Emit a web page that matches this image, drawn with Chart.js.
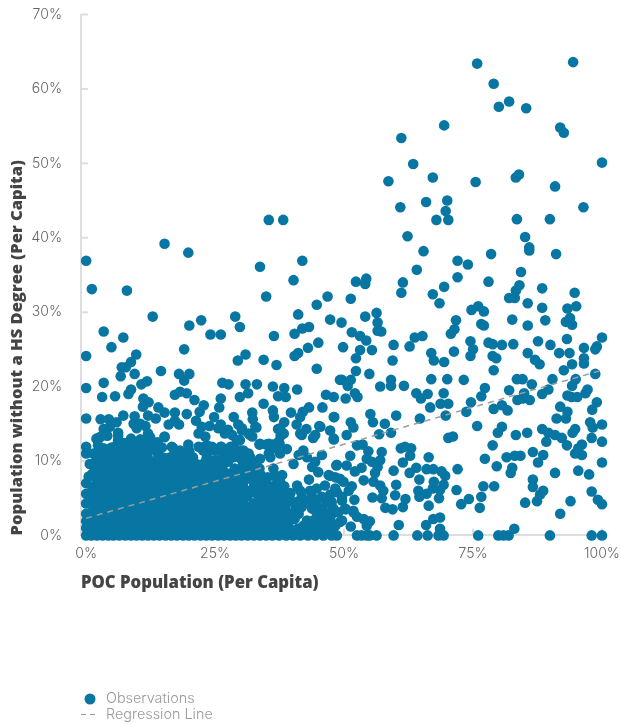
<!DOCTYPE html>
<html>
<head>
<meta charset="utf-8">
<title>POC population vs population without a HS degree</title>
<script src="https://cdn.jsdelivr.net/npm/chart.js@4"></script>
<style>
    html, body { margin: 0; padding: 0; background: #fff; }
    #wrap { position: relative; width: 621px; height: 724px; overflow: hidden; }
    #chart { position: absolute; left: 0; top: 0; }
    .legend-row { position: absolute; left: 106px; font: 300 14.4px Inter, sans-serif; color: #9a9a9a; line-height: 16px; }
    .swatch { position: absolute; }
</style>
</head>
<body>
<div id="wrap">
    <canvas id="chart" width="621" height="724"></canvas>
    <svg class="swatch" style="left:78px;top:690px" width="22" height="32">
        <circle cx="12" cy="9" r="5.5" fill="#0776a3"></circle>
        <line x1="3" x2="19" y1="24.5" y2="24.5" stroke="#9a9a9a" stroke-width="1.2" stroke-dasharray="5 4"></line>
    </svg>
    <div class="legend-row" style="top:690px">Observations</div>
    <div class="legend-row" style="top:706px">Regression Line</div>
</div>
<script>
const xTickValues = [0, 25, 50, 75, 100];
const yTickValues = [0, 10, 20, 30, 40, 50, 60, 70];
const regressionX = [0, 100];
const regressionY = [2.3, 22.2];

// [POC %, no HS degree %], split up by region
const upperLeft = [
    [0,36.9],[1.1,33.1],[7.9,32.9],[15.2,39.2],[19.8,38],[35.4,42.4],[38.2,42.4],[33.7,36.1],[41.9,36.9],[40.2,34.3],[34.9,32.1],
    [44.7,31],[41.1,29.7],[12.9,29.4],[28.9,29.4],[47.3,29],[22.3,28.9],[20,28.2],[29.8,28],[49.5,28.6],[43.2,28],[41.9,27.8],
    [40.4,27.1],[3.4,27.4],[24.1,27],[26.1,27],[7.2,26.6],[36.4,26.8],[45,25.9],[4.9,25.3],[19,25],[43,25.2],[9.7,24.3],[0,24.1],
    [30.9,24.3],[41.1,24.5],[40.4,24.1],[29.4,23.5],[34.4,23.6],[36.9,22.9],[8.7,23.3],[7.7,22.6],[6.9,22.6],[44.7,22.4],[14.5,22.1],
    [18,21.7],[20,21.7],[9.4,21.7],[6.7,21.4],[19,20.8],[49.2,20.9],[3.4,20.5],[11.8,20.7],[10.7,20.3],[26.4,20.5],[27.6,20.3],
    [30.9,20.3],[33.1,20.3],[0,19.8],[36.2,20],[38.4,19.8],[40.9,19.6],[8.7,19.6],[8.2,19],[31.4,19.1],[18.2,19.3],[19.5,19.1],[17.2,18.9],
    [3.1,18.6],[5.6,18.7],[26.1,18.4],[29.8,18.6],[37.2,18.7],[38.7,18.6],[46.5,18.9],[48,18.6],[21,18.2],[11.1,18.4],[12.1,17.9],[11,17.3],
    [22.8,17.5],[25.8,17.2],[34.4,17.7],[14,17.2],[43.2,17.2],[45.8,17.2],[36.2,16.8],[22,16.6],[32.2,16.5],[15.2,16.5],[17.2,16.5],
    [42,16.6],[39.7,16.5],[19.5,16.3],[7.2,16.1],[9.4,16],[12,16.1],[13.5,15.7],[24.8,15.9],[28.6,15.9],[32.3,15.6],[36.4,15.9],[48,15.9],
    [0,15.7],[2.8,15.6],[4.4,15.6],[17.2,15.4],[16,14.9],[18,14.9],[21.3,15.4],[41.5,15.9],[5.9,15.2],[9.2,15],[10.5,15],[11.5,14.7],
    [26.1,14.9],[29.5,14.9],[33,14.5],[38.4,15.2],[40.8,14.9],[45.2,14.7],[23.9,14.7],[3.4,14.3],[27.5,14.2],[21.8,13.7],[30.2,14.1],
    [37.2,14.3],[42.7,14.3],[47.3,14.1],[6.2,13.8],[12,13.7],[31.5,13.7],[41.5,13.7],[44.4,13.5],[3.1,13.4],[4.1,13.4],[37.7,13.4],
    [15.2,13.3],[23.1,13.3],[28.3,13.5],[32.2,13.3],[48,13],[8.7,13],[2,13],[6.2,12.8],[44,13.1],[12.3,12.8],[29.8,12.8],[33.6,12.2],
    [34.9,12.2],[36.2,12.2],[37.5,12.3],[19.8,12.2],[21.8,11.9],[22.9,11.9],[24.4,11.9],[26.1,11.9],[28.8,11.7],[0,11.9],[0,11],
    [2.3,12.1],[2.7,13.2],[3.9,13.5],[5.9,12.1],[7.5,11.4],[11.4,12.1],[13,11.7],[15.2,13.2],[16.9,11.7],[16.2,10.3],[20.7,10.5],
    [21.1,9.2],[17.8,10.1],[24,11.7],[26.2,11.9],[22.7,11.4],[25.3,10.1],[27.5,9.9],[28.8,9],[4.6,14.6],[9.8,14.4],[11.7,13],[22.4,14.6],
    [25.6,14.4],[26.9,13.7],[30.2,14.4],[31.8,13.5],[32.8,14.6],[37.6,14.4],[38.3,13.7],[41.8,13.5],[45.4,14.6],[48,12.9],[33.7,12.3],
    [35.4,12.3],[37.3,12.6],[36.7,11.7],[38.9,11.6],[37.6,11],[35.4,11],[33.7,10.3],[35.7,10.5],[33.6,9],[36.3,9],[38,8.1],[34.4,7.6]
];

const upperRight = [
    [75.8,63.4],[94.4,63.6],[79,60.7],[82,58.3],[80,57.6],[85.3,57.4],[69.4,55.1],[91.9,54.8],[92.6,54.1],[61.1,53.4],[100,50.1],
    [63.4,49.9],[67.2,48.1],[83.9,48.5],[83.3,48.1],[75.5,47.5],[58.6,47.6],[90.9,46.9],[60.9,44.1],[65.9,44.8],[70,45],[69.7,43.6],
    [67.9,42.4],[70.2,42.4],[83.5,42.5],[89.9,42.5],[96.4,44.1],[85.1,40.1],[62.3,40.2],[85.9,38.7],[85.9,38.3],[65.4,38.2],[78.5,37.8],
    [91.1,37.8],[72,36.9],[74,36.4],[64.1,35.7],[84.3,35.4],[72,34.7],[54.3,34.5],[52.3,34.1],[54.1,33.8],[61.4,34],[78,34.1],[69.4,33.4],
    [84,33.6],[88.4,33.2],[83.3,32.9],[61.1,32.6],[67.2,32.4],[94.7,32.6],[46.8,32.1],[51.3,31.8],[82,31.9],[83.1,31.9],
    [68.5,31.2],[85.6,31.2],[88.4,30.6],[95,30.8],[93.3,30.5],[74.7,30.3],[76,30.8],[77.1,30.1],[56.3,29.9],[54.1,29.4],[56.5,28.6],
    [56.5,27.5],[57.2,27.4],[71.7,28.9],[71.4,27.7],[70.7,27.1],[76.6,28.4],[77.1,28.2],[82.6,29],[85.6,28.2],[89,28.9],[93.8,29.2],
    [93,28.7],[94.2,28.3],[51.5,27.3],[53.1,26.8],[54.3,26.2],[65.2,26.8],[63.7,26.6],[100,26.6],[74.5,26.1],[78,25.9],[78.8,25.7],
    [80.6,25.6],[82.8,25.7],[87.6,26.1],[93.2,26.4],[49.8,25.3],[59.6,25.6],[62.7,25.4],[90,25.6],[96.5,25.2],[99,25.4],[98.7,25],
    [53.1,24.9],[55.4,24.9],[75,25],[74.5,24.1],[66.9,24.5],[67.4,23.5],[71.3,24.7],[85.6,24.5],[91.7,24.5],[93.7,24.5],[52.3,23.8],
    [59.4,23.5],[69.4,23.3],[78.8,24.1],[79.5,23.8],[87,23.6],[87.9,23],[96.5,23.8],[96.5,23.1],[94.2,23],[92.6,22.2],[79,22.2],
    [52.3,22.1],[54.9,21.7],[98.7,21.7],[49.6,20.9],[51.3,20.9],[50.7,20.1],[59.1,20.9],[59.1,20.1],[66.9,21],[70,21],[73.2,20.9],
    [83.5,21],[84.6,21],[90.4,21],[94.9,21],[57,20],[61.6,20.1],[86.4,20.3],[94.2,20.1],[77.3,19.8],[69.3,19.1],[82,19.5],[89.6,19.6],
    [97.2,19.6],[50.3,18.4],[52.1,19.1],[52.6,18.6],[64,19.1],[64.9,18.4],[66.2,19],[76.6,18.7],[84.9,19.1],[83.6,18.2],[84.6,18.4],
    [86,18.2],[88.4,19],[93.3,18.8],[94.1,18.6],[95.2,18.6],[96.8,19.1],[99,17.9],[74.6,17.9],[68.7,17.7],[70.2,17.7],[66.7,17.2],
    [80.6,17.5],[79,17],[81.7,16.8],[91.9,17.3],[98.1,16.9],[73.7,16.6],[93.3,16.6],[55.1,16.3],[55.6,15.2],[60.1,16.1],[69.7,16.1],
    [64.7,15.7],[48.1,15.9],[91.2,15.7],[93,15.7],[51.3,15.2],[51.8,14.5],[57.9,15],[97.7,15.2],[100,14.9],[75.8,14.7],[80.6,14.6],
    [98.2,14.5],[88.4,14.3],[94.8,14.3],[94.3,13.8],[79.8,13.8],[85.5,13.8],[89.6,13.8],[90.9,13.5],[56.8,13.6],[59.1,13.8],[50.5,13.5],
    [83.3,13.5],[70.2,13.1],[71.1,13.3],[92.2,13.1],[98,13.1],[100,12.6],[89.2,12.6]
];

const lowerRight = [
    [52.5,12.1],[53.6,12.2],[78.8,12.1],[93.2,12.1],[96.1,12.2],[95.4,11.7],[61.8,11.9],[61,11.7],[63,11.7],[54.7,11.3],[57.3,11.2],
    [86.6,11.2],[94.8,11],[96.1,10.8],[51.2,10.7],[88.6,10.8],[62.8,10.7],[66.4,10.5],[81.5,10.5],[83.1,10.7],[84.2,10.7],[77.3,10.3],
    [54.4,10.3],[55.4,9.9],[57,10.1],[61.4,9.8],[87.6,9.8],[100,9.8],[50.5,9.4],[48.5,9.4],[79.6,9.3],[53.4,9.1],[52.1,8.6],[64,9.1],
    [62.7,8.4],[82.6,9.1],[82.3,8.4],[56.5,9.2],[56,8.4],[59.6,8.7],[66,8.9],[67.3,8.9],[72,8.9],[68.9,8.6],[69.6,8],[95.4,8.7],[90.9,8.4],
    [97.5,8.2],[47.3,8],[49.2,7.6],[49.9,7.2],[64.6,7.5],[53.8,7.4],[55.7,7.2],[57,6.7],[86.6,7.5],[86.6,6.5],[60.1,6.8],[67.4,7.2],
    [69.3,6.8],[67.2,6.3],[51.5,6.6],[50.9,6],[77,6.6],[79.1,6.6],[71.8,6.1],[64.4,6],[64.6,5.2],[66,5.6],[68.6,6.1],[68.4,5],[88.6,6],
    [88,5.5],[87.4,4.6],[98,5.9],[99.2,4.8],[100,4.2],[57.6,6],[59.9,5.4],[48.6,5.8],[47.3,5.5],[76.6,5.2],[55.5,5.1],[57.3,5],[52,4.8],
    [49.6,4.7],[61.9,4.9],[74.2,4.9],[72.7,4.2],[85.1,4.4],[93.9,4.6],[66.4,4],[76.3,3.7],[58,3.7],[59.4,3.5],[61.4,3.8],[50.3,3.5],
    [51.8,3.3],[91.9,2.9],[47.9,3],[52.5,2.5],[53.8,2.2],[55,1.9],[67.3,2.2],[68.6,2.4],[65.9,1.4],[49.2,1.8],[54.4,1.3],[60.6,1.4],
    [51.3,1.2],[83,0.9],[68.6,0.9],[47.3,0.7],[47.6,0],[48.6,0],[52.5,0],[53.4,0],[54.4,0],[55,0],[56.3,0],[59.6,0],[64.2,0],[66.2,0],
    [68.3,0],[69.3,0],[76,0],[79.9,0],[80.9,0],[81.9,0],[89.9,0],[98,0],[100,0]
];

const denseMiddle = [
    [40.9,6.7],[41.5,6],[43.4,6],[44.7,6.3],[46.3,6.7],[48.3,6.3],[49.6,5.2],[41.8,5.2],[43.8,5.2],[45.7,5.2],[47.6,4.5],[41.8,3.8],
    [43.8,3.6],[45.7,3.6],[47.9,3.6],[50.2,3.6],[51.8,3.1],[45.7,2.5],[47.3,2.2],[49.6,2],[45.4,1.6],[42.8,2],[39.2,1.3],[42.1,1.3],
    [42.1,11.4],[41.2,10.8],[40.2,9.6],[42.8,10.5],[45.7,10.8],[44.4,9.9],[43.8,9.2],[45,8.5],[43.2,7.5],[47,8.1],[48.6,9.5],[48.3,7.8],
    [39.6,5.7],[38.4,6.6],[36.9,7],[35.5,6.6],[33.9,7.1],[32.6,6.9],[31.1,7.6],[31.8,8.4],[30.2,9.1],[30.7,10],[29.4,10.6],
    [37.6,5.3],[36,5.6],[34.4,5.4],[32.9,5.7],[31.3,5.3],[38.9,4.4],[37.2,4.1],[35.6,4.4],[33.9,4],[32.4,4.3],[30.8,4],
    [40.1,3],[38.4,2.8],[36.7,3],[35,2.7],[33.4,2.9],[31.7,2.6],[37.4,1.8],[35.8,1.5],[34.1,1.7],[32.5,1.4],[30.9,1.7],
    [40.4,2.2],[38,0.8],[36.4,0.6],[34.7,0.7],[33,0.5],[31.4,0.7],[39.5,0.6],[41,0.5],[43,0.7],[44.6,0.8],[46,0.6],
    [30.5,6.2],[32,6.1],[33.7,6.3],[35.3,6],[36.9,6.2],[38.5,5.9],[30.3,4.9],[33.6,4.8],[35.2,5],[36.9,4.8],[38.5,5],[30.6,3.4],[32.1,3.5],[33.7,3.3],
    [35.3,3.5],[37,3.4],[38.6,3.6],[30.2,2.2],[32.9,2.2],[34.5,2.1],[36.1,2.3],[37.8,2.2],[39.4,2.1],[30.6,1.1],[32,1],[33.7,1.2],[35.3,1],[36.9,1.2],
    [38.7,1.7],[39.5,4.9],[41,4.5],[42.8,4.5],[44.6,4.4],[46.6,4.4],[40.6,3.8],[44.7,3],[46.5,3],[48.9,3.1],[41.2,2.9],[44,2],[46.4,1.5],[48.3,1.3],[43.5,1.2],[41,0.9],
    [31,9],[32.4,9.6],[32.6,7.9],[31,8.6],[29.5,8.4],[32.5,8.4],[33.8,8.2],[35.2,7.8],[36.7,8],[37.6,7.2]
];

const baseline = [
    [0,0],[1,0],[2.1,0],[3.2,0],[4.3,0],[5.3,0],[6.4,0],[7.6,0],[8.7,0],[9.8,0],[10.9,0],[12,0],[13.1,0],[14.2,0],[15.4,0],[16.5,0],
    [17.6,0],[18.8,0],[19.9,0],[21,0],[22.2,0],[23.3,0],[24.4,0],[25.6,0],[26.7,0],[27.9,0],[29,0],[30.1,0],[31.3,0],[32.5,0],[33.7,0],
    [34.9,0],[36.1,0],[37.4,0],[38.8,0],[40.1,0],[41.5,0],[43,0],[44.4,0],[46,0]
];

const denseLeft = [
    [0,1],[1.2,0.9],[2.8,1],[4.4,0.8],[6,1],[7.7,0.9],[9.3,1],[10.9,0.8],[12.6,1],[14.2,0.9],[15.8,1],[17.5,0.8],[19.1,0.9],[20.7,1],[22.4,0.8],[24,1],[25.6,0.9],[27.3,1],[28.9,0.8],
    [0,1.9],[2,1.9],[3.6,1.8],[5.2,2],[6.9,1.8],[8.5,1.9],[10.1,2],[11.8,1.8],[13.4,1.9],[15,2],[16.7,1.8],[18.3,1.9],[19.9,2],[21.6,1.8],[23.2,1.9],[24.8,2],[26.5,1.8],[28.1,1.9],[29.7,2],
    [0,2.9],[1.3,2.8],[2.9,2.9],[4.5,2.7],[6.1,2.9],[7.8,2.8],[9.4,3],[11,2.7],[12.7,2.9],[14.3,2.8],[15.9,3],[17.6,2.7],[19.2,2.9],[20.8,2.8],[22.5,3],[24.1,2.7],[25.7,2.9],[27.4,2.8],[29,3],
    [0,4.3],[2,3.8],[3.6,3.7],[5.2,3.9],[6.9,3.8],[8.5,3.7],[10.1,3.9],[11.8,3.8],[13.4,3.7],[15,3.9],[16.7,3.8],[18.3,3.7],[19.9,3.9],[21.6,3.8],[23.2,3.7],[24.8,3.9],[26.5,3.8],[28.1,3.7],[29.7,3.9],
    [1.2,4.7],[2.9,4.8],[4.5,4.6],[6.1,4.8],[7.8,4.7],[9.4,4.6],[11,4.8],[12.7,4.7],[14.3,4.6],[15.9,4.8],[17.6,4.7],[19.2,4.6],[20.8,4.8],[22.5,4.7],[24.1,4.6],[25.7,4.8],[27.4,4.7],[29,4.6],
    [0,5.6],[2,5.6],[3.6,5.5],[5.2,5.7],[6.9,5.6],[8.5,5.5],[10.1,5.7],[11.8,5.6],[13.4,5.5],[15,5.7],[16.7,5.6],[18.3,5.5],[19.9,5.7],[21.6,5.6],[23.2,5.5],[24.8,5.7],[26.5,5.6],[28.1,5.5],[29.7,5.7],
    [0,7],[1.2,6.5],[2.9,6.6],[4.5,6.4],[6.1,6.6],[7.8,6.5],[9.4,6.4],[11,6.6],[12.7,6.5],[14.3,6.4],[15.9,6.6],[17.6,6.5],[19.2,6.4],[20.8,6.6],[22.5,6.5],[24.1,6.4],[25.7,6.6],[27.4,6.5],[29,6.4],
    [0.5,7.9],[2,7.4],[3.6,7.3],[5.2,7.5],[6.9,7.4],[8.5,7.3],[10.1,7.5],[11.8,7.4],[13.4,7.3],[15,7.5],[16.7,7.4],[18.3,7.3],[19.9,7.5],[21.6,7.4],[23.2,7.3],[24.8,7.5],[26.5,7.4],[28.1,7.3],[29.7,7.5],
    [1.2,8.3],[2.9,8.3],[4.5,8.2],[6.1,8.4],[7.8,8.3],[9.4,8.2],[11,8.4],[12.7,8.3],[14.3,8.2],[15.9,8.4],[17.6,8.3],[19.4,8.2],[22.5,8.3],[24.1,8.2],[25.7,8.4],[27.4,8.3],
    [0.7,9.6],[2.4,9.3],[3.6,9.1],[5.2,9.3],[6.9,9.2],[8.5,9.1],[10.1,9.3],[11.8,9.2],[13.4,9.1],[15,9.3],[18.8,9.1],[22.4,9.2],[24,9.1],[26.4,9.3],
    [3.2,10.1],[4.8,10],[6.3,10.2],[8.9,10.1],[10.5,10],[12.1,10.2],[13.8,10],[15.2,10.4],[19,10.2],[23.4,10.3],[26.6,10.5],
    [1.8,11],[3.9,11],[5.4,11],[9.3,11.1],[11.9,10.9],[14,11],[18.6,11.1],[20,11.3],[27.8,11],[30,11.4],[31.5,11],
    [12.4,13.2],[13.7,11.4],[16.6,11.9],[17.6,11],[16.3,10.5],[18.2,11.4],[20.5,10.5],[21.4,9.6],[28,11.9],[29.2,12.8],[30.5,11.4],[28.6,10.5],[30.2,10.1],[31.8,10.5],
    [23.4,12.1],[24.7,11.4],[26,11.4],[27.3,11.4],[23.4,10.5],[25,10.1],[26.6,9.6],[10.5,11.4],[8.9,11],[7.2,11],[4.7,11],[3,10.5],[1.4,9.6],[1.4,11],[6.2,13.4],[6.5,12]
];

const denseFill = [
    [1,0.4],[3.9,0.5],[7,0.4],[10.2,0.5],[13.4,0.4],[16.6,0.5],[19.8,0.4],[23,0.5],[26.2,0.4],[29.4,0.5],
    [1.5,1.4],[3.1,1.5],[4.7,1.3],[6.3,1.4],[8,1.5],[9.6,1.3],[11.2,1.4],[12.9,1.5],[14.5,1.3],[16.1,1.4],[17.8,1.5],[19.4,1.3],[21,1.4],[22.7,1.5],[24.3,1.3],[25.9,1.4],[27.6,1.5],[29.2,1.3],
    [1.1,2.4],[2.7,2.3],[4.3,2.5],[6,2.4],[7.6,2.3],[9.2,2.5],[10.9,2.4],[12.5,2.3],[14.1,2.5],[15.8,2.4],[17.4,2.3],[19,2.5],[20.7,2.4],[22.3,2.3],[23.9,2.5],[25.6,2.4],[27.2,2.3],[28.8,2.5],
    [1.4,3.4],[3,3.3],[4.6,3.4],[6.3,3.3],[7.9,3.4],[9.5,3.3],[11.2,3.4],[12.8,3.3],[14.4,3.4],[16.1,3.3],[17.7,3.4],[19.3,3.3],[21,3.4],[22.6,3.3],[24.2,3.4],[25.9,3.3],[27.5,3.4],[29.1,3.3],
    [1,4.2],[2.7,4.3],[4.3,4.2],[5.9,4.3],[7.6,4.2],[9.2,4.3],[10.8,4.2],[12.5,4.3],[14.1,4.2],[15.7,4.3],[17.4,4.2],[19,4.3],[20.6,4.2],[22.3,4.3],[23.9,4.2],[25.5,4.3],[27.2,4.2],[28.8,4.3],
    [1,5.2],[2.8,5.2],[4.4,5.1],[6,5.2],[7.7,5.1],[9.3,5.2],[10.9,5.1],[12.6,5.2],[14.2,5.1],[15.8,5.2],[17.5,5.1],[19.1,5.2],[20.7,5.1],[22.4,5.2],[24,5.1],[25.6,5.2],[27.3,5.1],[28.9,5.2],
    [1.4,6],[3,6.1],[4.6,6],[6.3,6.1],[7.9,6],[9.5,6.1],[11.2,6],[12.8,6.1],[14.4,6],[16.1,6.1],[17.7,6],[19.3,6.1],[21,6],[22.6,6.1],[24.2,6],[25.9,6.1],[27.5,6],[29.1,6.1],
    [2.7,7],[4.3,6.9],[6,7],[7.6,6.9],[9.2,7],[10.9,6.9],[12.5,7],[14.1,6.9],[15.8,7],[17.4,6.9],[19,7],[20.7,6.9],[22.3,7],[23.9,6.9],[25.6,7],[27.2,6.9],[28.8,7],[30.4,6.9],
    [2.1,7.9],[3.7,7.8],[5.4,7.9],[7,7.8],[8.6,7.9],[10.3,7.8],[11.9,7.9],[13.5,7.8],[15.2,7.9],[16.8,7.8],[18.4,7.9],[20.1,7.8],[21.7,7.9],[23.3,7.8],[25,7.9],[26.6,7.8],[28.2,7.9],[29.9,7.8],
    [2,8.8],[3.6,8.7],[5.3,8.8],[6.9,8.7],[8.5,8.8],[10.2,8.7],[11.8,8.8],[13.4,8.7],[15.1,8.8],[16.7,8.7],[19.8,8.8],[23.3,8.7],[25,8.8],[26.5,8.7],
    [2.6,9.9],[4.2,9.7],[5.9,9.8],[7.6,9.7],[9.2,9.8],[10.9,9.7],[12.5,9.8],[14.2,9.7],
    [19,8.3],[21,8.4],[16.5,9.4],[17.6,9.2],[20,9.5],[23,9.8],[25,9.6],[2,10.5],[5.6,10.6],[7.5,10.4],[10,10.6],[11.5,10.5],[14,10.6],
    [3.4,11.7],[4.9,11.8],[8.2,11.8],[9.9,11.7],[12,11.6],[14.7,11.8],[9.7,12.5],[10.5,12.9],[7.4,12.4],[13.8,12.5]
];

const observations = [...upperLeft, ...upperRight, ...lowerRight, ...denseMiddle, ...baseline, ...denseLeft, ...denseFill];

const blue = '#0776a3';
const axisGrey = '#dedede';

// axis ticks point into the plot, chart.js only draws them outward
const innerTicks = {
    id: 'innerTicks',
    beforeDatasetsDraw(chart) {
        const { ctx, scales: { x, y } } = chart;
        ctx.save();
        ctx.strokeStyle = axisGrey;
        ctx.lineWidth = 2;
        ctx.beginPath();
        yTickValues.forEach(v => {
            const py = y.getPixelForValue(v);
            ctx.moveTo(x.left, py);
            ctx.lineTo(x.left + 7, py);
        });
        xTickValues.forEach(v => {
            const px = x.getPixelForValue(v);
            ctx.moveTo(px, y.bottom);
            ctx.lineTo(px, y.bottom - 7);
        });
        ctx.stroke();
        ctx.restore();
    }
};

function dropScalePadding(axis) {
    axis.paddingTop = 0;
    axis.paddingBottom = 0;
    axis.paddingLeft = 0;
    axis.paddingRight = 0;
}

new Chart(document.getElementById('chart').getContext('2d'), {
    data: {
        datasets: [
            {
                type: 'line',
                label: 'Regression Line',
                data: regressionX.map((x, i) => ({ x: x, y: regressionY[i] })),
                borderColor: '#9c9c9c',
                borderWidth: 1.5,
                borderDash: [6, 5],
                pointRadius: 0,
                order: 1
            },
            {
                type: 'scatter',
                label: 'Observations',
                data: observations.map(p => ({ x: p[0], y: p[1] })),
                backgroundColor: blue,
                borderWidth: 0,
                pointRadius: 5.3,
                clip: false,
                order: 2
            }
        ]
    },
    options: {
        responsive: false,
        animation: false,
        layout: { padding: { top: 14.5, right: 19, bottom: 130.6, left: 0 } },
        plugins: { legend: { display: false }, tooltip: { enabled: false } },
        scales: {
            x: {
                type: 'linear',
                min: -1,
                max: 100,
                afterBuildTicks: axis => { axis.ticks = xTickValues.map(v => ({ value: v })); },
                afterFit: axis => { axis.height = 58; dropScalePadding(axis); },
                grid: { display: false, drawTicks: false },
                border: { color: axisGrey, width: 2 },
                ticks: {
                    padding: 10,
                    maxRotation: 0,
                    color: '#666',
                    font: { family: 'Inter', size: 14, weight: '300' },
                    callback: v => v + '%'
                },
                title: {
                    display: true,
                    text: 'POC Population (Per Capita)',
                    align: 'start',
                    color: '#444',
                    padding: 0,
                    font: { family: '"Open Sans"', size: 16.7, weight: '800' }
                }
            },
            y: {
                min: 0,
                max: 70,
                afterBuildTicks: axis => { axis.ticks = yTickValues.map(v => ({ value: v })); },
                afterFit: axis => { axis.width = 81; dropScalePadding(axis); },
                grid: { display: false, drawTicks: false },
                border: { color: axisGrey, width: 2 },
                ticks: {
                    padding: 19,
                    color: '#666',
                    font: { family: 'Inter', size: 14, weight: '300' },
                    callback: v => v + '%'
                },
                title: {
                    display: true,
                    text: 'Population without a HS Degree (Per Capita)',
                    align: 'start',
                    color: '#444',
                    padding: { top: 7.5, bottom: 0 },
                    font: { family: '"Open Sans"', size: 16.55, weight: '800' }
                }
            }
        }
    },
    plugins: [innerTicks]
});
</script>
</body>
</html>
